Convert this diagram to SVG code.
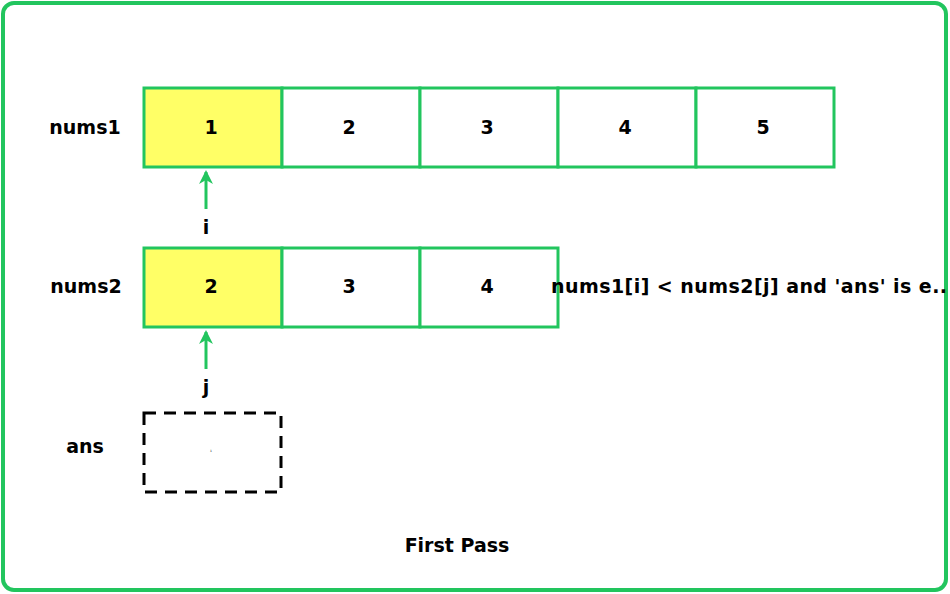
<svg xmlns="http://www.w3.org/2000/svg" width="950" height="594" viewBox="0 0 950 594">
<style>
.t{font-family:"DejaVu Sans",Verdana,sans-serif;font-weight:bold;font-size:19px;fill:#000}
.c{fill:#fff;stroke:#22C55E;stroke-width:3}
.y{fill:#FFFF66}
.ln{stroke:#22C55E;stroke-width:3;fill:none}
</style>
<defs>
<marker id="ah" viewBox="0 0 14 14" refX="12" refY="7" markerWidth="14" markerHeight="14" orient="auto" markerUnits="userSpaceOnUse">
<path d="M0,0 L14,7 L0,14 L4,7 z" fill="#22C55E"/>
</marker>
</defs>
<rect x="0" y="0" width="950" height="594" fill="#fff"/>
<rect id="frame" x="3" y="3" width="943" height="587" rx="11" fill="none" stroke="#22C55E" stroke-width="4"/>
<g id="labels">
<text class="t" x="85" y="134" text-anchor="middle">nums1</text>
<text class="t" x="86" y="293" text-anchor="middle">nums2</text>
<text class="t" x="85" y="453" text-anchor="middle">ans</text>
</g>
<g id="nums1">
<rect class="c y" x="144" y="88" width="138" height="79"/>
<text class="t" x="211" y="134" text-anchor="middle">1</text>
<rect class="c" x="282" y="88" width="138" height="79"/>
<text class="t" x="349" y="134" text-anchor="middle">2</text>
<rect class="c" x="420" y="88" width="138" height="79"/>
<text class="t" x="487" y="134" text-anchor="middle">3</text>
<rect class="c" x="558" y="88" width="138" height="79"/>
<text class="t" x="625" y="134" text-anchor="middle">4</text>
<rect class="c" x="696" y="88" width="138" height="79"/>
<text class="t" x="763" y="134" text-anchor="middle">5</text>
</g>
<g id="nums2">
<rect class="c y" x="144" y="248" width="138" height="79"/>
<text class="t" x="211" y="293" text-anchor="middle">2</text>
<rect class="c" x="282" y="248" width="138" height="79"/>
<text class="t" x="349" y="293" text-anchor="middle">3</text>
<rect class="c" x="420" y="248" width="138" height="79"/>
<text class="t" x="487" y="293" text-anchor="middle">4</text>
</g>
<g id="ans">
<rect x="144" y="413" width="137" height="79" fill="none" stroke="#000" stroke-width="3" stroke-dasharray="12,8"/>
<text x="211" y="452" font-family="DejaVu Sans,sans-serif" font-size="3" text-anchor="middle">1</text>
</g>
<g id="connectors">
<line class="ln" x1="206" y1="209" x2="206" y2="172" marker-end="url(#ah)"/>
<line class="ln" x1="206" y1="369" x2="206" y2="332" marker-end="url(#ah)"/>
</g>
<g id="pointers">
<text class="t" x="206" y="234" text-anchor="middle">i</text>
<text class="t" x="206" y="394" text-anchor="middle">j</text>
</g>
<g id="note">
<text class="t" x="551" y="293" textLength="396" lengthAdjust="spacing">nums1[i] &lt; nums2[j] and 'ans' is e..</text>
</g>
<g id="caption">
<text class="t" x="457" y="552" text-anchor="middle">First Pass</text>
</g>
</svg>
